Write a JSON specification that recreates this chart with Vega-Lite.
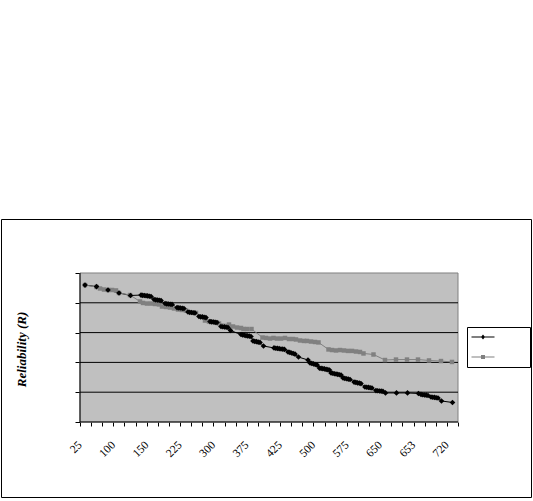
{
  "$schema": "https://vega.github.io/schema/vega-lite/v6.json",
  "width": 530,
  "height": 278,
  "autosize": {"type": "none"},
  "padding": {"left": 1, "top": 219, "right": 2, "bottom": 4},
  "background": "white",
  "config": {
    "font": "Liberation Serif",
    "view": {"stroke": "black", "strokeWidth": 1},
    "axisX": {"offset": -75, "domain": false, "grid": false, "tickSize": 4, "tickColor": "black",
      "labelAngle": 315, "labelAlign": "right", "labelBaseline": "middle", "labelFontSize": 11.5,
      "labelColor": "black", "labelPadding": 17, "labelOverlap": false, "labelBound": false, "labelFlush": false},
    "axisY": {"offset": -79, "labels": false, "domain": false, "grid": false, "tickSize": 5, "tickColor": "black",
      "titleFont": "Liberation Serif", "titleFontSize": 13, "titleFontWeight": "bold",
      "titleFontStyle": "italic", "titleColor": "black", "titleX": -59, "titleY": 130, "titleAngle": 270,
      "titleAlign": "center", "titleBaseline": "middle"}
  },
  "datasets": {
    "grid": [{"level": 0}, {"level": 0.2}, {"level": 0.4}, {"level": 0.6}, {"level": 0.8}],
    "series": [
      {"series":"Series1","cat":0.45,"R":0.919},{"series":"Series1","cat":1.484,"R":0.909},{"series":"Series1","cat":2.518,"R":0.886},{"series":"Series1","cat":3.508,"R":0.866},{"series":"Series1","cat":4.542,"R":0.849},
      {"series":"Series1","cat":5.49,"R":0.852},{"series":"Series1","cat":5.64,"R":0.85},{"series":"Series1","cat":5.79,"R":0.849},{"series":"Series1","cat":5.94,"R":0.847},{"series":"Series1","cat":6.09,"R":0.846},{"series":"Series1","cat":6.24,"R":0.844},{"series":"Series1","cat":6.39,"R":0.842},
      {"series":"Series1","cat":6.66,"R":0.822},{"series":"Series1","cat":6.82,"R":0.82},{"series":"Series1","cat":6.98,"R":0.819},{"series":"Series1","cat":7.13,"R":0.817},{"series":"Series1","cat":7.29,"R":0.815},
      {"series":"Series1","cat":7.65,"R":0.795},{"series":"Series1","cat":7.81,"R":0.793},{"series":"Series1","cat":7.97,"R":0.792},{"series":"Series1","cat":8.12,"R":0.79},{"series":"Series1","cat":8.28,"R":0.789},
      {"series":"Series1","cat":8.73,"R":0.768},{"series":"Series1","cat":8.89,"R":0.766},{"series":"Series1","cat":9.04,"R":0.765},{"series":"Series1","cat":9.2,"R":0.763},{"series":"Series1","cat":9.35,"R":0.762},
      {"series":"Series1","cat":9.71,"R":0.738},{"series":"Series1","cat":9.87,"R":0.736},{"series":"Series1","cat":10.03,"R":0.735},{"series":"Series1","cat":10.18,"R":0.733},{"series":"Series1","cat":10.34,"R":0.732},
      {"series":"Series1","cat":10.7,"R":0.708},{"series":"Series1","cat":10.86,"R":0.706},{"series":"Series1","cat":11.02,"R":0.705},{"series":"Series1","cat":11.17,"R":0.703},{"series":"Series1","cat":11.33,"R":0.701},
      {"series":"Series1","cat":11.69,"R":0.674},{"series":"Series1","cat":11.85,"R":0.672},{"series":"Series1","cat":12.01,"R":0.671},{"series":"Series1","cat":12.16,"R":0.669},{"series":"Series1","cat":12.32,"R":0.668},
      {"series":"Series1","cat":12.68,"R":0.641},{"series":"Series1","cat":12.84,"R":0.639},{"series":"Series1","cat":13.0,"R":0.638},{"series":"Series1","cat":13.15,"R":0.636},{"series":"Series1","cat":13.31,"R":0.634},
      {"series":"Series1","cat":13.54,"R":0.614},
      {"series":"Series1","cat":14.48,"R":0.587},{"series":"Series1","cat":14.63,"R":0.585},{"series":"Series1","cat":14.78,"R":0.582},{"series":"Series1","cat":14.93,"R":0.58},{"series":"Series1","cat":15.08,"R":0.578},{"series":"Series1","cat":15.23,"R":0.576},{"series":"Series1","cat":15.38,"R":0.574},
      {"series":"Series1","cat":15.56,"R":0.544},{"series":"Series1","cat":15.72,"R":0.541},{"series":"Series1","cat":15.88,"R":0.539},{"series":"Series1","cat":16.03,"R":0.536},{"series":"Series1","cat":16.19,"R":0.534},
      {"series":"Series1","cat":16.505,"R":0.51},
      {"series":"Series1","cat":17.45,"R":0.497},{"series":"Series1","cat":17.61,"R":0.495},{"series":"Series1","cat":17.76,"R":0.494},{"series":"Series1","cat":17.92,"R":0.492},{"series":"Series1","cat":18.08,"R":0.49},{"series":"Series1","cat":18.24,"R":0.489},{"series":"Series1","cat":18.39,"R":0.487},
      {"series":"Series1","cat":18.71,"R":0.47},{"series":"Series1","cat":18.87,"R":0.467},{"series":"Series1","cat":19.03,"R":0.463},{"series":"Series1","cat":19.18,"R":0.46},{"series":"Series1","cat":19.34,"R":0.456},
      {"series":"Series1","cat":19.653,"R":0.436},{"series":"Series1","cat":20.507,"R":0.416},
      {"series":"Series1","cat":20.69,"R":0.396},{"series":"Series1","cat":20.85,"R":0.393},{"series":"Series1","cat":21.01,"R":0.39},{"series":"Series1","cat":21.16,"R":0.386},{"series":"Series1","cat":21.32,"R":0.383},
      {"series":"Series1","cat":21.54,"R":0.362},{"series":"Series1","cat":21.69,"R":0.36},{"series":"Series1","cat":21.84,"R":0.358},{"series":"Series1","cat":21.99,"R":0.356},{"series":"Series1","cat":22.14,"R":0.353},{"series":"Series1","cat":22.29,"R":0.351},{"series":"Series1","cat":22.44,"R":0.349},
      {"series":"Series1","cat":22.58,"R":0.329},{"series":"Series1","cat":22.73,"R":0.327},{"series":"Series1","cat":22.88,"R":0.324},{"series":"Series1","cat":23.03,"R":0.322},{"series":"Series1","cat":23.18,"R":0.32},{"series":"Series1","cat":23.33,"R":0.317},{"series":"Series1","cat":23.48,"R":0.315},
      {"series":"Series1","cat":23.66,"R":0.295},{"series":"Series1","cat":23.82,"R":0.293},{"series":"Series1","cat":23.98,"R":0.29},{"series":"Series1","cat":24.13,"R":0.288},{"series":"Series1","cat":24.29,"R":0.285},
      {"series":"Series1","cat":24.65,"R":0.268},{"series":"Series1","cat":24.81,"R":0.266},{"series":"Series1","cat":24.96,"R":0.263},{"series":"Series1","cat":25.12,"R":0.261},{"series":"Series1","cat":25.27,"R":0.258},
      {"series":"Series1","cat":25.63,"R":0.235},{"series":"Series1","cat":25.79,"R":0.233},{"series":"Series1","cat":25.95,"R":0.232},{"series":"Series1","cat":26.1,"R":0.23},{"series":"Series1","cat":26.26,"R":0.228},
      {"series":"Series1","cat":26.62,"R":0.211},{"series":"Series1","cat":26.78,"R":0.21},{"series":"Series1","cat":26.94,"R":0.208},{"series":"Series1","cat":27.09,"R":0.207},{"series":"Series1","cat":27.25,"R":0.205},
      {"series":"Series1","cat":27.478,"R":0.195},{"series":"Series1","cat":28.467,"R":0.195},{"series":"Series1","cat":29.457,"R":0.195},{"series":"Series1","cat":30.446,"R":0.191},
      {"series":"Series1","cat":30.67,"R":0.185},{"series":"Series1","cat":30.83,"R":0.183},{"series":"Series1","cat":30.99,"R":0.181},{"series":"Series1","cat":31.14,"R":0.18},{"series":"Series1","cat":31.3,"R":0.178},
      {"series":"Series1","cat":31.57,"R":0.168},{"series":"Series1","cat":31.73,"R":0.166},{"series":"Series1","cat":31.89,"R":0.165},{"series":"Series1","cat":32.04,"R":0.163},{"series":"Series1","cat":32.2,"R":0.161},
      {"series":"Series1","cat":32.515,"R":0.141},{"series":"Series1","cat":33.504,"R":0.131},

      {"series":"Series2","cat":0.45,"R":0.919},{"series":"Series2","cat":1.484,"R":0.906},{"series":"Series2","cat":1.799,"R":0.896},{"series":"Series2","cat":2.159,"R":0.889},
      {"series":"Series2","cat":2.518,"R":0.886},{"series":"Series2","cat":2.878,"R":0.886},{"series":"Series2","cat":3.238,"R":0.883},{"series":"Series2","cat":3.508,"R":0.866},
      {"series":"Series2","cat":4.497,"R":0.852},{"series":"Series2","cat":5.397,"R":0.809},{"series":"Series2","cat":5.667,"R":0.799},{"series":"Series2","cat":6.026,"R":0.795},
      {"series":"Series2","cat":6.386,"R":0.795},{"series":"Series2","cat":6.746,"R":0.792},{"series":"Series2","cat":7.106,"R":0.789},{"series":"Series2","cat":7.375,"R":0.775},
      {"series":"Series2","cat":7.735,"R":0.772},{"series":"Series2","cat":8.095,"R":0.768},{"series":"Series2","cat":8.455,"R":0.762},{"series":"Series2","cat":8.815,"R":0.755},
      {"series":"Series2","cat":9.174,"R":0.752},{"series":"Series2","cat":9.534,"R":0.748},{"series":"Series2","cat":10.434,"R":0.732},{"series":"Series2","cat":11.243,"R":0.681},
      {"series":"Series2","cat":11.603,"R":0.674},{"series":"Series2","cat":11.963,"R":0.671},{"series":"Series2","cat":12.322,"R":0.668},{"series":"Series2","cat":12.502,"R":0.661},
      {"series":"Series2","cat":13.402,"R":0.654},{"series":"Series2","cat":13.762,"R":0.641},{"series":"Series2","cat":14.121,"R":0.634},{"series":"Series2","cat":14.481,"R":0.631},
      {"series":"Series2","cat":14.706,"R":0.624},{"series":"Series2","cat":15.021,"R":0.624},{"series":"Series2","cat":15.426,"R":0.624},{"series":"Series2","cat":16.415,"R":0.567},
      {"series":"Series2","cat":16.73,"R":0.564},{"series":"Series2","cat":17.09,"R":0.56},{"series":"Series2","cat":17.404,"R":0.564},{"series":"Series2","cat":17.719,"R":0.56},
      {"series":"Series2","cat":18.079,"R":0.56},{"series":"Series2","cat":18.439,"R":0.564},{"series":"Series2","cat":18.798,"R":0.557},{"series":"Series2","cat":19.158,"R":0.557},
      {"series":"Series2","cat":19.428,"R":0.554},{"series":"Series2","cat":19.788,"R":0.547},{"series":"Series2","cat":20.147,"R":0.544},{"series":"Series2","cat":20.417,"R":0.544},
      {"series":"Series2","cat":20.777,"R":0.54},{"series":"Series2","cat":21.137,"R":0.537},{"series":"Series2","cat":21.452,"R":0.534},{"series":"Series2","cat":22.351,"R":0.487},
      {"series":"Series2","cat":22.666,"R":0.483},{"series":"Series2","cat":23.026,"R":0.48},{"series":"Series2","cat":23.385,"R":0.483},{"series":"Series2","cat":23.745,"R":0.48},
      {"series":"Series2","cat":24.105,"R":0.477},{"series":"Series2","cat":24.465,"R":0.477},{"series":"Series2","cat":24.825,"R":0.473},{"series":"Series2","cat":25.184,"R":0.47},
      {"series":"Series2","cat":25.499,"R":0.46},{"series":"Series2","cat":26.399,"R":0.453},{"series":"Series2","cat":27.433,"R":0.416},{"series":"Series2","cat":28.423,"R":0.419},
      {"series":"Series2","cat":29.412,"R":0.419},{"series":"Series2","cat":30.401,"R":0.419},{"series":"Series2","cat":31.391,"R":0.413},{"series":"Series2","cat":32.47,"R":0.409},
      {"series":"Series2","cat":33.459,"R":0.403}
    ]
  },
  "layer": [
    {
      "data": {"values": [{}]},
      "mark": {"type": "rect", "fill": "#c0c0c0", "stroke": "#808080", "strokeWidth": 1},
      "encoding": {
        "x": {"datum": 0, "type": "quantitative",
          "scale": {"domain": [-7.1058, 40.566], "nice": false, "zero": false},
          "axis": {"values": [0,1,2,3,4,5,6,7,8,9,10,11,12,13,14,15,16,17,18,19,20,21,22,23,24,25,26,27,28,29,30,31,32,33,34],
            "labelExpr": "datum.value % 3 === 0 ? ['25','100','150','225','300','375','425','500','575','650','653','720'][datum.value / 3] : ''", "title": null}
        },
        "x2": {"datum": 34},
        "y": {"datum": 0, "type": "quantitative",
          "scale": {"domain": [-0.5034, 1.3624], "nice": false, "zero": false},
          "axis": {"values": [0, 0.2, 0.4, 0.6, 0.8, 1], "title": "Reliability (R)"}
        },
        "y2": {"datum": 1}
      }
    },
    {
      "data": {"name": "grid"},
      "mark": {"type": "rule", "color": "black", "strokeWidth": 1},
      "encoding": {
        "x": {"datum": 0, "type": "quantitative",
          "axis": {"values": [0,1,2,3,4,5,6,7,8,9,10,11,12,13,14,15,16,17,18,19,20,21,22,23,24,25,26,27,28,29,30,31,32,33,34],
            "labelExpr": "datum.value % 3 === 0 ? ['25','100','150','225','300','375','425','500','575','650','653','720'][datum.value / 3] : ''", "title": null}},
        "x2": {"datum": 34},
        "y": {"field": "level", "type": "quantitative", "axis": {"values": [0, 0.2, 0.4, 0.6, 0.8, 1], "title": "Reliability (R)"}}
      }
    },
    {
      "data": {"values": [{}]},
      "mark": {"type": "rule", "color": "black", "strokeWidth": 1},
      "encoding": {
        "x": {"datum": 0, "type": "quantitative",
          "axis": {"values": [0,1,2,3,4,5,6,7,8,9,10,11,12,13,14,15,16,17,18,19,20,21,22,23,24,25,26,27,28,29,30,31,32,33,34],
            "labelExpr": "datum.value % 3 === 0 ? ['25','100','150','225','300','375','425','500','575','650','653','720'][datum.value / 3] : ''", "title": null}},
        "y": {"datum": 0, "type": "quantitative", "axis": {"values": [0, 0.2, 0.4, 0.6, 0.8, 1], "title": "Reliability (R)"}},
        "y2": {"datum": 1}
      }
    },
    {
      "data": {"name": "series"},
      "mark": {"type": "line", "strokeWidth": 1},
      "encoding": {
        "x": {"field": "cat", "type": "quantitative",
          "axis": {"values": [0,1,2,3,4,5,6,7,8,9,10,11,12,13,14,15,16,17,18,19,20,21,22,23,24,25,26,27,28,29,30,31,32,33,34],
            "labelExpr": "datum.value % 3 === 0 ? ['25','100','150','225','300','375','425','500','575','650','653','720'][datum.value / 3] : ''", "title": null}},
        "y": {"field": "R", "type": "quantitative", "axis": {"values": [0, 0.2, 0.4, 0.6, 0.8, 1], "title": "Reliability (R)"}},
        "color": {"field": "series", "type": "nominal",
          "scale": {"domain": ["Series1", "Series2"], "range": ["#000000", "#808080"]},
          "legend": {
            "orient": "none", "legendX": 466, "legendY": 108, "title": null, "labelExpr": "''",
            "padding": 5, "strokeColor": "black", "fillColor": "white", "symbolSize": 100, "rowPadding": 10,
            "labelOffset": 37, "symbolOffset": 6,
            "encode": {"symbols": {"update": {
              "shape": [{"test": "datum.value === 'Series1'", "value": "M-2.3,-0.1H2.3V0.1H-2.3Z M0,-0.5L0.4,0L0,0.5L-0.4,0Z"}, {"value": "M-2.3,-0.1H2.3V0.1H-2.3Z M-0.4,-0.4H0.4V0.4H-0.4Z"}],
              "fill": [{"test": "datum.value === 'Series1'", "value": "#000000"}, {"value": "#808080"}],
              "stroke": {"value": "transparent"}, "strokeWidth": {"value": 0}, "opacity": {"value": 1}}}}
          }
        }
      }
    },
    {
      "data": {"name": "series"},
      "transform": [{"filter": "datum.series === 'Series2'"}],
      "mark": {"type": "point", "shape": "square", "filled": true, "color": "#808080", "size": 20, "opacity": 1},
      "encoding": {
        "x": {"field": "cat", "type": "quantitative",
          "axis": {"values": [0,1,2,3,4,5,6,7,8,9,10,11,12,13,14,15,16,17,18,19,20,21,22,23,24,25,26,27,28,29,30,31,32,33,34],
            "labelExpr": "datum.value % 3 === 0 ? ['25','100','150','225','300','375','425','500','575','650','653','720'][datum.value / 3] : ''", "title": null}},
        "y": {"field": "R", "type": "quantitative", "axis": {"values": [0, 0.2, 0.4, 0.6, 0.8, 1], "title": "Reliability (R)"}}
      }
    },
    {
      "data": {"name": "series"},
      "transform": [{"filter": "datum.series === 'Series1'"}],
      "mark": {"type": "point", "shape": "diamond", "filled": true, "color": "#000000", "size": 32, "opacity": 1},
      "encoding": {
        "x": {"field": "cat", "type": "quantitative",
          "axis": {"values": [0,1,2,3,4,5,6,7,8,9,10,11,12,13,14,15,16,17,18,19,20,21,22,23,24,25,26,27,28,29,30,31,32,33,34],
            "labelExpr": "datum.value % 3 === 0 ? ['25','100','150','225','300','375','425','500','575','650','653','720'][datum.value / 3] : ''", "title": null}},
        "y": {"field": "R", "type": "quantitative", "axis": {"values": [0, 0.2, 0.4, 0.6, 0.8, 1], "title": "Reliability (R)"}}
      }
    }
  ]
}
